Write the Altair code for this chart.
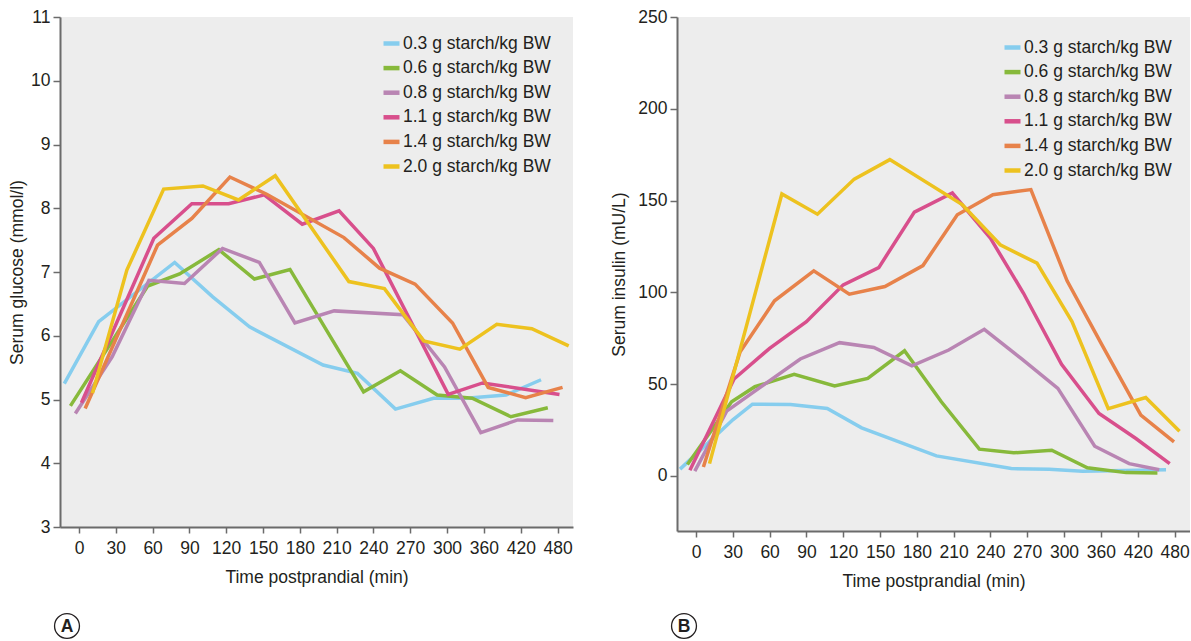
import altair as alt
import pandas as pd

DOSES = ["0.3 g starch/kg BW", "0.6 g starch/kg BW", "0.8 g starch/kg BW",
         "1.1 g starch/kg BW", "1.4 g starch/kg BW", "2.0 g starch/kg BW"]
COLORS = ["#86cdee", "#87b93b", "#b985b3", "#d84f8c", "#e7824a", "#edc21f"]
X_TICKS = [0, 30, 60, 90, 120, 150, 180, 210, 240, 270, 300, 360, 420, 480]

# ---- Panel A: serum glucose (mmol/l) ----
ga03_t = [-12, 16, 78, 109, 139, 199, 227, 258, 289, 331, 396, 453]
ga03_v = [5.25, 6.22, 7.15, 6.61, 6.14, 5.54, 5.41, 4.85, 5.02, 5.02, 5.07, 5.31]
ga06_t = [-7, 56, 82, 114, 143, 172, 232, 262, 292, 341, 404, 464]
ga06_v = [4.90, 6.78, 6.97, 7.35, 6.89, 7.04, 5.12, 5.45, 5.07, 5.02, 4.73, 4.87]
ga08_t = [-3, 27, 57, 86, 117, 147, 176, 208, 264, 298, 355, 415, 473]
ga08_v = [4.78, 5.67, 6.87, 6.82, 7.37, 7.15, 6.20, 6.39, 6.33, 5.51, 4.48, 4.68, 4.67]
ga11_t = [2, 61, 92, 122, 151, 182, 212, 240, 302, 358, 483]
ga11_v = [4.95, 7.53, 8.07, 8.07, 8.21, 7.75, 7.96, 7.37, 5.08, 5.26, 5.08]
ga14_t = [5, 64, 92, 123, 153, 216, 245, 274, 309, 367, 428, 488]
ga14_v = [4.86, 7.42, 7.84, 8.49, 8.22, 7.54, 7.06, 6.81, 6.20, 5.19, 5.03, 5.19]
ga20_t = [11, 39, 69, 101, 130, 160, 220, 249, 281, 321, 381, 438, 498]
ga20_v = [5.10, 7.03, 8.30, 8.35, 8.13, 8.51, 6.85, 6.74, 5.92, 5.79, 6.18, 6.11, 5.84]

# ---- Panel B: serum insulin (mU/L) ----
ib03_t = [-13, 30, 46, 77, 107, 135, 196, 257, 288, 330, 466]
ib03_v = [3.7, 30.6, 39.1, 38.9, 36.7, 26.2, 10.9, 4.0, 3.7, 2.6, 3.4]
ib06_t = [-7, 29, 48, 80, 113, 140, 170, 200, 231, 259, 290, 338, 401, 452]
ib06_v = [6.2, 40.4, 48.6, 55.3, 49.0, 53.1, 68.2, 40.4, 14.6, 12.6, 14.0, 4.4, 1.8, 1.6]
ib08_t = [-1, 25, 85, 117, 145, 176, 206, 235, 265, 295, 350, 406, 455]
ib08_v = [2.6, 35.3, 63.7, 72.6, 70.0, 60.0, 68.6, 79.9, 64.0, 47.7, 16.2, 6.7, 3.4]
ib11_t = [-5, 31, 60, 90, 120, 149, 178, 209, 240, 267, 298, 357, 417, 472]
ib11_v = [3.1, 52.8, 69.5, 84.0, 104.1, 113.5, 143.7, 154.1, 129.5, 99.5, 60.8, 34.0, 20.4, 6.7]
ib14_t = [6, 36, 64, 96, 125, 154, 185, 213, 242, 273, 305, 362, 425, 479]
ib14_v = [4.9, 67.7, 95.4, 111.7, 99.0, 103.2, 114.6, 142.3, 153.2, 156.0, 106.3, 71.3, 33.1, 18.6]
ib20_t = [11, 70, 99, 129, 158, 217, 248, 278, 313, 372, 433, 488]
ib20_v = [6.7, 153.6, 142.6, 161.7, 172.3, 147.8, 125.9, 115.9, 84.1, 36.7, 42.7, 24.4]


def build(series):
    rows = []
    for dose, ts, vs in series:
        for t, v in zip(ts, vs):
            rows.append({"dose": dose, "t": t, "v": v})
    return pd.DataFrame(rows)


df_a = build(zip(DOSES, [ga03_t, ga06_t, ga08_t, ga11_t, ga14_t, ga20_t],
                 [ga03_v, ga06_v, ga08_v, ga11_v, ga14_v, ga20_v]))
df_b = build(zip(DOSES, [ib03_t, ib06_t, ib08_t, ib11_t, ib14_t, ib20_t],
                 [ib03_v, ib06_v, ib08_v, ib11_v, ib14_v, ib20_v]))

FONT = "Liberation Sans"
TXT = "#231f20"
W = 513


def panel(df, ydomain, yvalues, ytitle, height, legend_x, legend_y, letter, ytitle_pad, letter_y):
    x = alt.X("t:Q",
              scale=alt.Scale(domain=[-15.5, 300, 505], range=[0, 387, W], nice=False, zero=False),
              axis=alt.Axis(values=X_TICKS, title="Time postprandial (min)", titlePadding=12,
                            labelPadding=6, tickSize=6))
    y = alt.Y("v:Q",
              scale=alt.Scale(domain=ydomain, nice=False, zero=False),
              axis=alt.Axis(values=yvalues, title=ytitle, titlePadding=ytitle_pad,
                            labelPadding=3, tickSize=7))
    lines = alt.Chart(df).mark_line(strokeWidth=3.5, clip=True).encode(
        x=x, y=y,
        color=alt.Color("dose:N",
                        scale=alt.Scale(domain=DOSES, range=COLORS),
                        legend=alt.Legend(orient="none", legendX=legend_x, legendY=legend_y,
                                          title=None, symbolType="stroke", symbolStrokeWidth=4.5,
                                          symbolSize=256, labelFontSize=17.5, labelFont=FONT,
                                          labelColor=TXT, labelOffset=1, rowPadding=4.6,
                                          padding=0, labelLimit=300)),
        order="t:Q",
    )
    lab = pd.DataFrame({"l": [letter]})
    circ = alt.Chart(lab).mark_point(shape="circle", filled=False, size=620,
                                     stroke=TXT, strokeWidth=1.3, opacity=1).encode(
        x=alt.value(7), y=alt.value(letter_y))
    txt = alt.Chart(lab).mark_text(fontSize=17.5, fontWeight="bold", font=FONT, color=TXT,
                                   baseline="middle", align="center").encode(
        x=alt.value(7), y=alt.value(letter_y + 1), text="l:N")
    return alt.layer(lines, circ, txt).properties(width=W, height=height)


pa = panel(df_a, [3, 11], [3, 4, 5, 6, 7, 8, 9, 10, 11], "Serum glucose (mmol/l)",
           510, 321, 16, "A", 4, 609)
pb = panel(df_b, [-30, 250], [0, 50, 100, 150, 200, 250], "Serum insulin (mU/L)",
           514, 325, 20, "B", 9, 609)

chart = alt.hconcat(pa, pb, spacing=37).resolve_scale(
    x="independent", y="independent", color="independent"
).resolve_legend(color="independent").properties(
    padding={"left": 8, "top": 8, "right": 0, "bottom": 0},
    background="white",
).configure_view(
    fill="#ededed", stroke=None
).configure_axis(
    grid=False, domainColor="#6b6b6b", domainWidth=2, tickColor="#6b6b6b", tickWidth=1.5,
    labelFont=FONT, labelFontSize=17.5, labelColor=TXT,
    titleFont=FONT, titleFontSize=17.5, titleColor=TXT, titleFontWeight="normal",
    labelFlush=False,
)

chart.save("out.html", embed_options={"renderer": "svg", "actions": False})
